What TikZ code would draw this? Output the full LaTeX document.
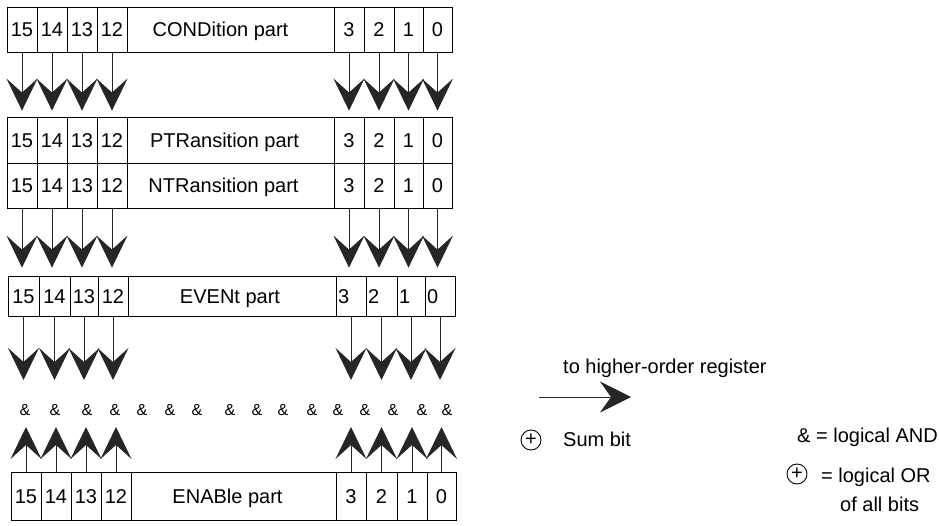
\documentclass[tikz,border=0pt]{standalone}
\usepackage{fontspec}
\setmainfont{Liberation Sans}
\usetikzlibrary{arrows.meta}
\begin{document}
\begin{tikzpicture}[x=1pt,y=-1pt,
  every node/.style={font=\fontsize{20}{22}\selectfont},
  cell/.style={draw=black,line width=0.8pt,inner sep=0pt,text height=14.3pt,text depth=0pt},
  bigarrow/.style={draw=black!85,line width=0.8pt,-{Stealth[length=32pt,width=31pt,inset=14pt]}},
  amp/.style={font=\fontsize{16}{18}\selectfont,inner sep=0pt},
  oplus/.style={draw=black,line width=0.9pt,circle,minimum size=20pt,inner sep=0pt,font=\fontsize{20}{20}\selectfont},
  legend/.style={anchor=base west,inner sep=0pt}]
\useasboundingbox (0,0) rectangle (939,526);
% CONDition register
\foreach \xa/\xb/\t/\n in {7/37/15/c15,37/67/14/c14,67/97/13/c13,97/127/12/c12,334/364/3/c3,364/394/2/c2,394/423/1/c1,423/452/0/c0}
  \node[cell,minimum width={(\xb-\xa)*1pt},minimum height=45pt] (\n) at ({(\xa+\xb)/2},29.5) {\t};
\node[cell,minimum width=207pt,minimum height=45pt] (cl) at (230.5,29.5) {\hspace*{-20pt}CONDition part};
% PTRansition register
\foreach \xa/\xb/\t/\n in {7/37/15/p15,37/67/14/p14,67/97/13/p13,97/127/12/p12,334/364/3/p3,364/394/2/p2,394/423/1/p1,423/452/0/p0}
  \node[cell,minimum width={(\xb-\xa)*1pt},minimum height=46pt] (\n) at ({(\xa+\xb)/2},140) {\t};
\node[cell,minimum width=207pt,minimum height=46pt] (pl) at (230.5,140) {\hspace*{-12pt}PTRansition part};
% NTRansition register
\foreach \xa/\xb/\t/\n in {7/37/15/n15,37/67/14/n14,67/97/13/n13,97/127/12/n12,334/364/3/n3,364/394/2/n2,394/423/1/n1,423/452/0/n0}
  \node[cell,minimum width={(\xb-\xa)*1pt},minimum height=45pt] (\n) at ({(\xa+\xb)/2},185.5) {\t};
\node[cell,minimum width=207pt,minimum height=45pt] (nl) at (230.5,185.5) {\hspace*{-14pt}NTRansition part};
% EVENt register
\foreach \xa/\xb/\t/\n in {8/39/15/e15,39/70/14/e14,70/98/13/e13,98/128/12/e12}
  \node[cell,minimum width={(\xb-\xa)*1pt},minimum height=40pt] (\n) at ({(\xa+\xb)/2},296) {\t};
\node[cell,minimum width=208pt,minimum height=40pt] (el) at (232,296) {\hspace*{-4pt}EVENt part};
\foreach \xa/\xb/\t/\n in {336/366/3/e3,366/397/2/e2,397/425/1/e1,425/455/0/e0}
  \node[cell,minimum width={(\xb-\xa)*1pt},minimum height=40pt,text width={(\xb-\xa-4)*1pt},align=left] (\n) at ({(\xa+\xb)/2},296) {\t};
% ENABle register
\foreach \xa/\xb/\t/\n in {11/41/15/en15,41/71/14/en14,71/101/13/en13,101/131/12/en12,336/366/3/en3,366/397/2/en2,397/427/1/en1,427/456/0/en0}
  \node[cell,minimum width={(\xb-\xa)*1pt},minimum height=48pt] (\n) at ({(\xa+\xb)/2},496) {\t};
\node[cell,minimum width=205pt,minimum height=48pt] (enl) at (233.5,496) {\hspace*{-12pt}ENABle part};
% AND row
\foreach \x [count=\i] in {25,55,87,115,142,170,197,230,257,283,312,338,365,393,422,447}
  \node[amp] (amp\i) at (\x,410) {\&};
\coordinate (dlev) at (0,380);
\coordinate (ulev) at (0,427);
% arrows COND -> PTR
\foreach \b in {15,14,13,12,3,2,1,0}
  \draw[bigarrow,shorten >=6pt] (c\b.south) -- (c\b.south |- p\b.north);
% arrows NTR -> EVENt
\foreach \b in {15,14,13,12,3,2,1,0}
  \draw[bigarrow,shorten >=8pt] (n\b.south) -- (n\b.south |- e\b.north);
% arrows EVENt -> AND row
\foreach \b in {15,14,13,12,3,2,1,0}
  \draw[bigarrow] (e\b.south) -- (e\b.south |- dlev);
% arrows ENABle -> AND row
\foreach \b in {15,14,13,12,3,2,1,0}
  \draw[bigarrow] (en\b.north) -- (en\b.north |- ulev);
% legend
\node[legend] (toh) at (563,373) {to higher-order register};
\coordinate (ha) at (539,397);
\coordinate (hb) at (631,397);
\draw[draw=black!85,line width=0.8pt,-{Stealth[length=31pt,width=31pt,inset=11pt]}] (ha) -- (hb);
\node[oplus] (sumc) at (531,440) {+};
\node[legend] (sumt) at (563,446) {Sum bit};
\node[legend] (andt) at (797,442) {\& = logical AND};
\node[oplus] (orc) at (797,474) {+};
\node[legend] (ort) at (821,482) {= logical OR};
\node[legend] (allt) at (840,511) {of all bits};
\end{tikzpicture}
\end{document}
